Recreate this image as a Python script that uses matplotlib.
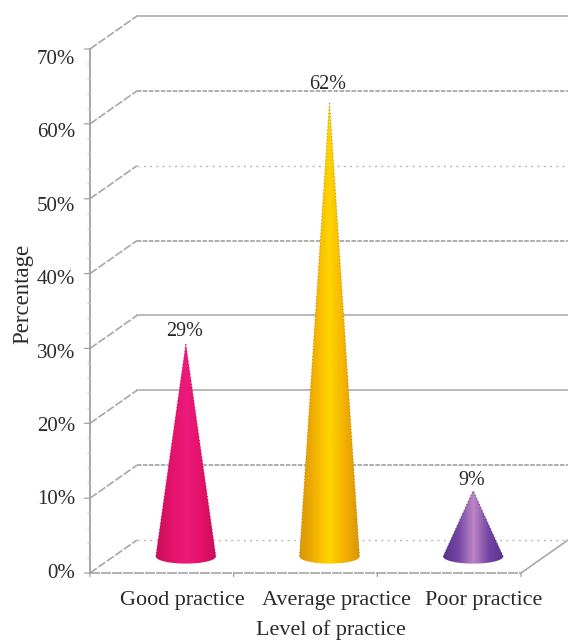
import numpy as np
import matplotlib
matplotlib.use("Agg")
import matplotlib.pyplot as plt
from matplotlib.colors import LinearSegmentedColormap
from matplotlib.patches import Polygon
from matplotlib.transforms import Affine2D

plt.rcParams["font.family"] = ["Liberation Serif", "DejaVu Serif"]

categories = ["Good practice", "Average practice", "Poor practice"]
values = [29, 62, 9]
y_ticks = [0, 10, 20, 30, 40, 50, 60, 70]
y_tick_labels = ["0%", "10%", "20%", "30%", "40%", "50%", "60%", "70%"]

# colour stops across each cone: edge, body, highlight, body, edge
cone_colors = [
    ["#c80f58", "#e3126a", "#ee1a7c", "#e3126a", "#c80f58"],
    ["#d8950a", "#f3b100", "#ffd500", "#f3b100", "#d8950a"],
    ["#55318c", "#7646a4", "#bb86c4", "#7646a4", "#55318c"],
]
cone_edges = ["#a80f4c", "#a87a10", "#4a2f7a"]

# wall line style for each gridline, bottom to top
GRID_STYLES = [
    dict(ls=(0, (1.5, 3)), lw=1.0, color="#b8b8b8"),
    dict(ls=(0, (2.5, 0.8)), lw=1.3, color="#a8a8a8"),
    dict(ls="-", lw=1.3, color="#b4b4b4"),
    dict(ls="-", lw=1.3, color="#b4b4b4"),
    dict(ls=(0, (2.5, 0.8)), lw=1.3, color="#a8a8a8"),
    dict(ls=(0, (1.5, 3)), lw=1.0, color="#b8b8b8"),
    dict(ls=(0, (2.5, 0.8)), lw=1.3, color="#a8a8a8"),
    dict(ls="-", lw=1.3, color="#b4b4b4"),
]

TEXT_COLOR = "#2a2a2a"
AXIS_COLOR = "#a0a0a0"
HEIGHT_SQUEEZE = 0.98  # the 3D cones and tick text run a little short of the wall scale
CONE_HALF_WIDTH = 0.209
BASE_SEMI_HEIGHT = 0.95

W, H = 568, 641
X_UNIT = 431 / 3  # pixels per category
Y_UNIT = 524 / 70  # pixels per percent
DEPTH_X = 47 / X_UNIT
DEPTH_Y = 33 / Y_UNIT

fig = plt.figure(figsize=(W / 100, H / 100), dpi=100)
ax = fig.add_axes([90 / W, (H - 573) / H, 431 / W, 524 / H])
ax.set_xlim(0, 3)
ax.set_ylim(0, 70)
ax.axis("off")

# back wall gridlines and the slanted side wall
for tick, style in zip(y_ticks, GRID_STYLES):
    ax.plot([DEPTH_X, 3 + DEPTH_X], [tick + DEPTH_Y] * 2, clip_on=False, zorder=1, **style)
    ax.plot([0, DEPTH_X], [tick, tick + DEPTH_Y], color="#a8a8a8", lw=1.2, ls=(0, (5, 1.2)),
            clip_on=False, zorder=1)

# front edge of the floor and its slant at the right
ax.plot([0, 3], [0, 0], color="#a4a4a4", lw=1.2, ls=(0, (6, 0.6)), clip_on=False, zorder=2)
ax.plot([3, 3 + DEPTH_X], [0, DEPTH_Y], color="#aaaaaa", lw=1.2, clip_on=False, zorder=2)

# value axis with major and minor ticks
ax.plot([0, 0], [0, 70], color=AXIS_COLOR, lw=1.3, clip_on=False, zorder=2)
for tick in np.arange(0, 71, 2):
    major = tick % 10 == 0
    ax.annotate("", xy=(0, tick), xycoords="data", xytext=(-4 if major else -1.5, 0),
                textcoords="offset points",
                arrowprops=dict(arrowstyle="-", color=AXIS_COLOR if major else "#c4c4c4", lw=0.9,
                                shrinkA=0, shrinkB=0))
for pos in range(4):
    ax.annotate("", xy=(pos, 0), xycoords="data", xytext=(0, -2.5), textcoords="offset points",
                arrowprops=dict(arrowstyle="-", color=AXIS_COLOR, lw=0.9, shrinkA=0, shrinkB=0))

# cones sit half way into the floor
middle = ax.transData + Affine2D().translate(24, 16.5)

# cones: a horizontal gradient clipped to a triangle with a rounded base
for i, (value, stops, edge) in enumerate(zip(values, cone_colors, cone_edges)):
    centre = i + 0.5
    theta = np.linspace(0, np.pi, 40)
    arc_x = centre - CONE_HALF_WIDTH * np.cos(theta)
    arc_y = -BASE_SEMI_HEIGHT * np.sin(theta)
    outline = np.column_stack([
        np.append(arc_x, centre),
        np.append(arc_y, value * HEIGHT_SQUEEZE),
    ])
    cone = Polygon(outline, closed=True, transform=middle, facecolor="none", edgecolor="none",
                   clip_on=False, zorder=3)
    ax.add_patch(cone)
    cmap = LinearSegmentedColormap.from_list("cone", stops)
    image = ax.imshow(
        np.linspace(0, 1, 128)[None, :], cmap=cmap, aspect="auto", zorder=3,
        extent=[centre - CONE_HALF_WIDTH, centre + CONE_HALF_WIDTH, -BASE_SEMI_HEIGHT, value],
        transform=middle,
    )
    image.set_clip_path(cone)

    # speckled dark rim along the two slanted sides
    for side in (-1, 1):
        ax.plot([centre + side * CONE_HALF_WIDTH, centre], [0, value * HEIGHT_SQUEEZE],
                transform=middle, color=edge, lw=0.8, ls=(0, (1, 2)), alpha=0.7,
                clip_on=False, zorder=3)

    ax.annotate(f"{value}%", xy=(centre, value), xycoords=middle, xytext=(-1, 6),
                textcoords="offset points", ha="center", va="center",
                fontsize=14.5, color=TEXT_COLOR, zorder=4)

ax.set_xlim(0, 3)
ax.set_ylim(0, 70)

# tick text is spaced slightly tighter than the ticks themselves
for tick, label in zip(y_ticks, y_tick_labels):
    ax.text(-15 / X_UNIT, tick * HEIGHT_SQUEEZE - 0.02, label, ha="right", va="center",
            fontsize=15, color=TEXT_COLOR)

category_x = [182, 336, 484]
for x, label in zip(category_x, categories):
    fig.text(x / W, 1 - 601 / H, label, ha="center", va="center", fontsize=15.9, color=TEXT_COLOR)

fig.text(331 / W, 1 - 630 / H, "Level of practice", ha="center", va="center",
         fontsize=15.9, color=TEXT_COLOR)
fig.text(23 / W, 1 - 294 / H, "Percentage", rotation=90, ha="center", va="center",
         fontsize=16.5, color=TEXT_COLOR)

fig.savefig("out.png", dpi=100)
